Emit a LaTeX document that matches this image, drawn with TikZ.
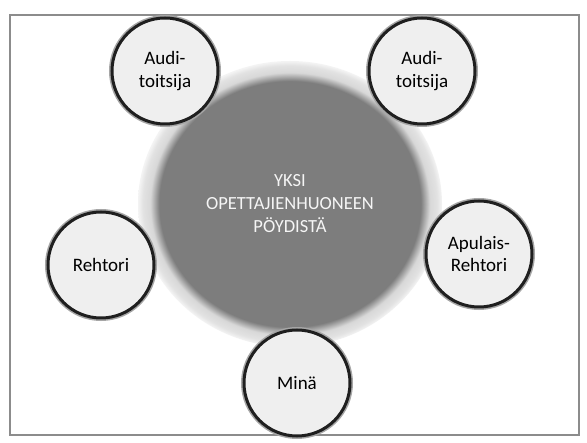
\documentclass[tikz,border=0pt]{standalone}
\usepackage{fontspec}
\setmainfont{Carlito}
\usepackage{tikz}
\usetikzlibrary{shapes.geometric}
\definecolor{tabledark}{RGB}{125,125,125}
\definecolor{tablehalo}{RGB}{216,216,216}
\definecolor{halorim}{RGB}{226,226,226}
\definecolor{haloedge}{RGB}{244,244,244}
\definecolor{seatfill}{RGB}{239,239,239}
\definecolor{framegray}{RGB}{140,140,140}
\definecolor{tabletext}{RGB}{245,245,245}
% path edge = 25bp
\pgfdeclareradialshading{tableshade}{\pgfpoint{0bp}{0bp}}{color(0bp)=(tabledark); color(21.5bp)=(tabledark); color(23bp)=(tablehalo); color(24.2bp)=(halorim); color(25bp)=(haloedge); color(50bp)=(haloedge)}

\begin{document}
\begin{tikzpicture}[x=1pt, y=-1pt,
			table/.style={ellipse, minimum width=304pt, minimum height=286pt, inner sep=0pt, shading=tableshade, align=center, text=tabletext, font=\fontsize{18.5}{23}\selectfont},
			seat/.style={circle, minimum size=106pt, inner sep=0pt, fill=seatfill, draw=black!88, line width=3pt, preaction={draw=black!35, line width=6pt}, align=center, font=\fontsize{19}{22.5}\selectfont}
		]
		\fill[white] (0,0) rectangle (587,443);
		\useasboundingbox (0,0) rectangle (587,443);
		\draw[framegray, line width=1.5pt] (10,15) rectangle (579,435);
		
		\node[table] (poyta) at (290,204) {YKSI\\OPETTAJIENHUONEEN\\PÖYDISTÄ};
		
		\node[seat] (audi1) at (165,71) {Audi-\\toitsija};
		\node[seat] (audi2) at (422,71) {Audi-\\toitsija};
		\node[seat] (rehtori) at (101,265) {Rehtori};
		\node[seat] (apulais) at (479,254) {Apulais-\\Rehtori};
		\node[seat] (mina) at (297,383) {Minä};
		\end{tikzpicture}
\end{document}
